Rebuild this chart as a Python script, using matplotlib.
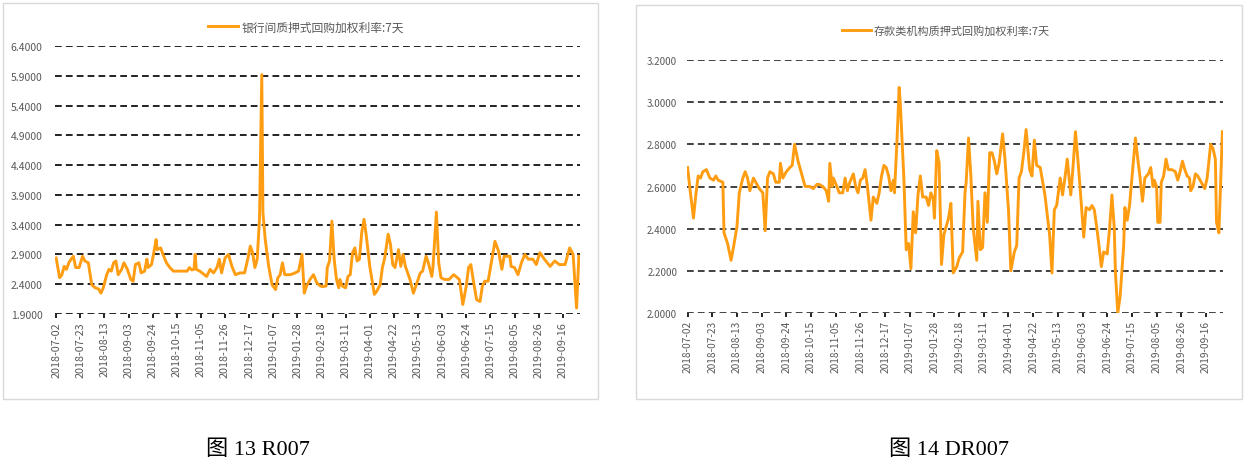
import pandas as pd
import matplotlib
matplotlib.use('Agg')
import matplotlib.pyplot as plt
import matplotlib.dates as mdates
from matplotlib.patches import Rectangle

plt.rcParams['font.family'] = ['Noto Sans CJK SC', 'DejaVu Sans']

# dates are stored as calendar days after this start date
start_date = '2018-07-02'
tick_dates = pd.date_range('2018-07-02', '2019-09-16', freq='21D')

# R007: interbank pledged repo weighted rate, 7 days
r007_day = [0, 3, 5, 7, 9, 11, 13, 15, 17, 20, 23, 25, 28, 31, 34, 37, 39, 41, 44, 46,
            48, 50, 52, 54, 57, 59, 62, 65, 67, 69, 72, 74, 77, 79, 80, 83, 85, 87, 88, 91,
            93, 96, 99, 102, 108, 114, 116, 118, 120, 121, 122, 125, 129, 131, 134, 137, 140, 142, 144, 147,
            150, 153, 156, 160, 164, 167, 169, 171, 173, 175, 177, 179, 180, 182, 185, 188, 191, 193, 195, 197,
            199, 204, 208, 211, 214, 216, 218, 221, 224, 227, 230, 232, 235, 236, 238, 240, 242, 244, 246, 247,
            249, 252, 254, 256, 258, 260, 262, 264, 266, 268, 270, 273, 277, 279, 282, 284, 286, 289, 291, 293,
            295, 298, 300, 302, 304, 308, 311, 314, 317, 319, 322, 324, 327, 328, 331, 333, 335, 338, 342, 346,
            348, 351, 354, 357, 359, 361, 363, 366, 369, 371, 373, 376, 379, 382, 385, 388, 390, 392, 395, 396,
            399, 402, 405, 408, 411, 415, 418, 421, 425, 430, 434, 438, 443, 447, 450, 453, 455]
r007_val = [2.84, 2.51, 2.56, 2.70, 2.65, 2.76, 2.82, 2.87, 2.68, 2.68, 2.87, 2.79, 2.76, 2.39, 2.34, 2.32, 2.25, 2.34, 2.56, 2.65,
            2.62, 2.76, 2.79, 2.56, 2.65, 2.76, 2.65, 2.48, 2.45, 2.73, 2.76, 2.59, 2.62, 2.82, 2.68, 2.73, 2.93, 3.15, 2.98, 3.01,
            2.90, 2.76, 2.68, 2.62, 2.62, 2.62, 2.68, 2.64, 2.65, 2.90, 2.65, 2.62, 2.56, 2.53, 2.65, 2.59, 2.68, 2.82, 2.59, 2.84,
            2.90, 2.70, 2.56, 2.59, 2.59, 2.84, 3.04, 2.93, 2.68, 2.82, 3.49, 5.92, 3.60, 3.15, 2.70, 2.39, 2.31, 2.51, 2.56, 2.76,
            2.56, 2.56, 2.59, 2.62, 2.90, 2.25, 2.37, 2.48, 2.56, 2.42, 2.37, 2.36, 2.37, 2.68, 2.79, 3.46, 2.82, 2.48, 2.34, 2.48,
            2.37, 2.34, 2.53, 2.56, 2.93, 3.01, 2.79, 2.82, 3.27, 3.49, 3.21, 2.70, 2.23, 2.28, 2.39, 2.68, 2.84, 3.24, 3.07, 2.73,
            2.68, 2.98, 2.70, 2.90, 2.70, 2.48, 2.25, 2.42, 2.59, 2.62, 2.87, 2.76, 2.53, 2.68, 3.61, 2.76, 2.51, 2.48, 2.48, 2.56,
            2.53, 2.48, 2.06, 2.37, 2.68, 2.73, 2.48, 2.14, 2.11, 2.37, 2.45, 2.45, 2.79, 3.12, 2.96, 2.65, 2.87, 2.87, 2.87, 2.70,
            2.68, 2.56, 2.76, 2.90, 2.82, 2.82, 2.73, 2.93, 2.82, 2.70, 2.79, 2.73, 2.73, 3.01, 2.90, 2.00, 2.87]

# DR007: depository institutions pledged repo weighted rate, 7 days
dr007_day = [0, 2, 5, 7, 9, 11, 13, 16, 19, 22, 24, 26, 30, 31, 34, 37, 39, 42, 44, 47,
             49, 51, 53, 56, 58, 61, 64, 66, 68, 70, 73, 75, 78, 79, 81, 84, 87, 89, 91, 94,
             97, 100, 104, 107, 110, 112, 115, 118, 120, 121, 123, 124, 127, 129, 132, 134, 136, 138, 141, 143,
             145, 147, 149, 151, 153, 156, 158, 161, 163, 165, 167, 169, 171, 173, 175, 176, 178, 180, 181, 184,
             186, 188, 190, 192, 194, 196, 198, 200, 203, 205, 207, 209, 210, 212, 214, 216, 218, 222, 224, 226,
             229, 231, 234, 236, 237, 239, 241, 243, 246, 247, 249, 251, 253, 255, 257, 259, 261, 263, 265, 268,
             270, 273, 275, 278, 280, 282, 284, 286, 288, 291, 293, 295, 297, 300, 304, 308, 310, 312, 314, 317,
             319, 321, 323, 326, 328, 330, 332, 334, 337, 339, 342, 344, 346, 348, 350, 352, 354, 357, 359, 361,
             363, 364, 366, 368, 371, 372, 374, 376, 379, 381, 383, 385, 387, 389, 392, 394, 396, 397, 399, 400,
             402, 403, 405, 407, 409, 412, 415, 417, 419, 421, 423, 425, 427, 428, 430, 432, 434, 436, 439, 440,
             442, 445, 447, 449, 450, 452, 455]
dr007_val = [2.69, 2.59, 2.45, 2.56, 2.65, 2.64, 2.67, 2.68, 2.64, 2.63, 2.65, 2.63, 2.62, 2.38, 2.33, 2.25, 2.31, 2.41, 2.57, 2.64,
             2.67, 2.64, 2.58, 2.64, 2.62, 2.59, 2.57, 2.39, 2.64, 2.67, 2.66, 2.62, 2.62, 2.71, 2.64, 2.67, 2.69, 2.70, 2.80, 2.72,
             2.66, 2.60, 2.60, 2.59, 2.61, 2.61, 2.60, 2.58, 2.53, 2.71, 2.60, 2.64, 2.60, 2.57, 2.57, 2.64, 2.58, 2.62, 2.66, 2.60,
             2.57, 2.63, 2.64, 2.68, 2.60, 2.44, 2.55, 2.52, 2.57, 2.65, 2.70, 2.69, 2.65, 2.58, 2.63, 2.57, 2.80, 3.07, 2.99, 2.64,
             2.30, 2.33, 2.21, 2.48, 2.38, 2.56, 2.65, 2.55, 2.55, 2.51, 2.57, 2.54, 2.45, 2.77, 2.71, 2.23, 2.37, 2.45, 2.52, 2.19,
             2.22, 2.26, 2.29, 2.57, 2.62, 2.83, 2.65, 2.40, 2.25, 2.53, 2.30, 2.31, 2.57, 2.43, 2.76, 2.76, 2.72, 2.66, 2.71, 2.85,
             2.73, 2.49, 2.20, 2.29, 2.32, 2.64, 2.67, 2.76, 2.87, 2.68, 2.65, 2.82, 2.70, 2.69, 2.56, 2.37, 2.19, 2.49, 2.51, 2.64,
             2.56, 2.64, 2.73, 2.56, 2.70, 2.86, 2.73, 2.59, 2.36, 2.50, 2.49, 2.51, 2.49, 2.41, 2.32, 2.22, 2.29, 2.28, 2.40, 2.56,
             2.40, 2.19, 2.00, 2.08, 2.32, 2.50, 2.44, 2.51, 2.70, 2.83, 2.73, 2.64, 2.53, 2.64, 2.66, 2.69, 2.60, 2.63, 2.60, 2.43,
             2.43, 2.62, 2.65, 2.73, 2.68, 2.68, 2.67, 2.63, 2.67, 2.72, 2.68, 2.65, 2.64, 2.58, 2.60, 2.66, 2.65, 2.63, 2.60, 2.59,
             2.64, 2.80, 2.78, 2.73, 2.43, 2.38, 2.86]

r007_ticks = [1.9, 2.4, 2.9, 3.4, 3.9, 4.4, 4.9, 5.4, 5.9, 6.4]
dr007_ticks = [2.0, 2.2, 2.4, 2.6, 2.8, 3.0, 3.2]

r007_label = '银行间质押式回购加权利率:7天'
dr007_label = '存款类机构质押式回购加权利率:7天'
captions = ['图 13 R007', '图 14 DR007']

LINE = '#FF9D12'
GREY = '#595959'
W, H = 1256, 477


def to_dates(days):
    return pd.Timestamp(start_date) + pd.to_timedelta(days, unit='D')


def px_box(x0, y0, x1, y1):
    """Pixel box (top-left origin) to figure fraction [l, b, w, h]."""
    return [x0 / W, 1 - y1 / H, (x1 - x0) / W, (y1 - y0) / H]


def draw_panel(fig, box, days, vals, ticks, label, grid_color, fs, xpad, legend_xy, xlim):
    ax = fig.add_axes(px_box(*box))
    line, = ax.plot(to_dates(days), vals, color=LINE, lw=2.1, solid_joinstyle='round')
    start = pd.Timestamp(start_date)
    ax.set_xlim(start + pd.Timedelta(days=xlim[0]), start + pd.Timedelta(days=xlim[1]))
    ax.set_ylim(ticks[0], ticks[-1])
    ax.set_yticks(ticks)
    ax.set_yticklabels([f'{t:.4f}' for t in ticks])
    ax.set_xticks(tick_dates)
    ax.xaxis.set_major_formatter(mdates.DateFormatter('%Y-%m-%d'))
    for t in ticks:
        ax.axhline(t, color=grid_color, lw=1.35, dashes=(3.6, 2.2), zorder=1)
    for s in ax.spines.values():
        s.set_visible(False)
    ax.tick_params(axis='y', length=0, pad=xpad, labelsize=fs, labelcolor=GREY)
    ax.tick_params(axis='x', length=3, width=1.2, color='black', direction='out',
                   pad=2, labelsize=fs + 0.3, labelcolor=GREY, labelrotation=90)
    ax.set_facecolor('none')
    fig.legend([line], [label], loc='center', frameon=False,
               bbox_to_anchor=(legend_xy[0] / W, 1 - legend_xy[1] / H),
               fontsize=fs + 1, labelcolor=GREY, handlelength=2.6, handletextpad=0.3)
    return ax


fig = plt.figure(figsize=(12.56, 4.77), dpi=100)
fig.patch.set_facecolor('white')

fig.patches.append(Rectangle((3 / W, 1 - 400 / H), 595 / W, 396 / H, transform=fig.transFigure,
                             fill=False, edgecolor='#D9D9D9', lw=1.0))
fig.patches.append(Rectangle((636 / W, 1 - 400 / H), 606 / W, 394 / H, transform=fig.transFigure,
                             fill=False, edgecolor='#D9D9D9', lw=1.0))

draw_panel(fig, (55, 47, 580, 315), r007_day, r007_val, r007_ticks, r007_label,
           '#1a1a1a', 7.5, 9, (306, 28), (-1, 456))
draw_panel(fig, (687, 61, 1223, 314), dr007_day, dr007_val, dr007_ticks, dr007_label,
           '#3a3a3a', 7, 7, (946, 31), (-0.5, 455.5))

cap_font = ['Liberation Serif', 'Noto Sans CJK SC']
fig.text(258 / W, 1 - 450 / H, captions[0], ha='center', va='center', fontsize=16, family=cap_font)
fig.text(949 / W, 1 - 450 / H, captions[1], ha='center', va='center', fontsize=16, family=cap_font)

fig.savefig('out.png', dpi=100)
